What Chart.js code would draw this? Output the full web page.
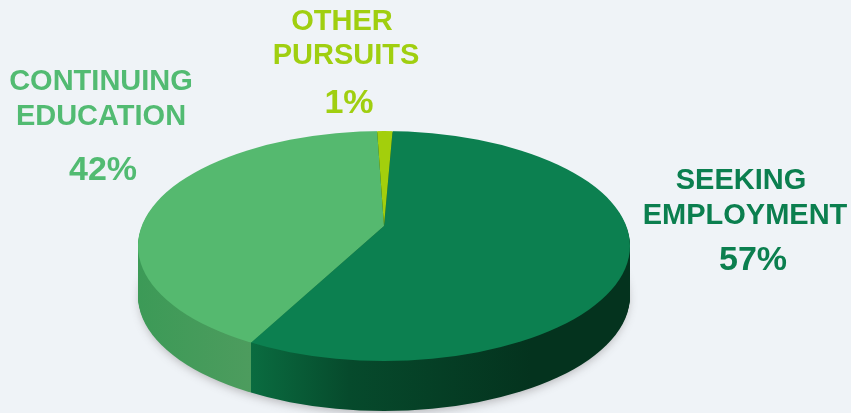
<!DOCTYPE html>
<html>
<head>
<meta charset="utf-8">
<title>Post-graduation plans</title>
<script src="https://cdn.jsdelivr.net/npm/chart.js@4"></script>
<style>
    html, body { margin: 0; padding: 0; background: #eff3f7; }
    canvas { display: block; }
</style>
</head>
<body>
<canvas id="chart-canvas" width="851" height="413"></canvas>
<script>
let categories = ["SEEKING EMPLOYMENT", "CONTINUING EDUCATION", "OTHER PURSUITS"];
let shares = [57, 42, 1];
let sliceColors = ["#0c8050", "#55b96f", "#a3cf0c"];
let textColors = ["#0b7f4f", "#52bb72", "#a0cf10"];

// label placement: one entry per category, [text, center x, baseline y] per line
let labelLines = [
    [["SEEKING", 741, 189], ["EMPLOYMENT", 745, 224]],
    [["CONTINUING", 101, 90], ["EDUCATION", 101, 125]],
    [["OTHER", 342, 30], ["PURSUITS", 346, 64]],
];
let percentSpots = [[753, 270], [103, 180], [349, 113]];

// the pie is seen in perspective: the rim is an ellipse whose middle sits
// below the point where the slices meet, so the far half is squashed harder
let rimCenterY = 246;
let rimRadiusY = 115;
let farSquash = 0.386;
let nearSquash = 0.451;
let overscan = 1.5;
let depth = 50;

// x where a slice edge leaves the apex and meets the rim
function rimX(angle, cx, cy, r) {
    let squash = Math.sin(angle) < 0 ? farSquash : nearSquash;
    let dx = Math.cos(angle);
    let dy = Math.sin(angle) * squash;
    let a = dx * dx / (r * r) + dy * dy / (rimRadiusY * rimRadiusY);
    let off = cy - rimCenterY;
    let b = 2 * off * dy / (rimRadiusY * rimRadiusY);
    let c = off * off / (rimRadiusY * rimRadiusY) - 1;
    let t = (-b + Math.sqrt(b * b - 4 * a * c)) / (2 * a);
    return cx + t * dx;
}

let tiltedPie = {
    id: "tiltedPie",
    beforeDatasetDraw(chart, args) {
        let ctx = chart.ctx;
        let arcs = args.meta.data;
        let cx = arcs[0].x;
        let cy = arcs[0].y;
        let r = arcs[0].outerRadius;

        // soft shadow under the pie
        ctx.save();
        ctx.shadowColor = "rgba(70, 60, 60, 0.35)";
        ctx.shadowBlur = 10;
        ctx.shadowOffsetY = 3;
        ctx.fillStyle = "#04331e";
        ctx.beginPath();
        ctx.ellipse(cx, rimCenterY + depth, r - 2, rimRadiusY - 1, 0, 0, Math.PI * 2);
        ctx.fill();
        ctx.restore();

        // side wall, changes colour where the first slice ends
        let left = cx - r;
        let split = (rimX(arcs[0].endAngle, cx, cy, r) - left) / (2 * r);
        let wall = ctx.createLinearGradient(left, 0, cx + r, 0);
        wall.addColorStop(0, "#3c9a57");
        wall.addColorStop(split, "#4d9c5e");
        wall.addColorStop(split, "#0a6c40");
        wall.addColorStop(split + 0.2, "#064a2c");
        wall.addColorStop(0.8, "#04331e");
        wall.addColorStop(1, "#04331e");
        ctx.fillStyle = wall;
        for (let d = depth; d > 0; d--) {
            ctx.beginPath();
            ctx.ellipse(cx, rimCenterY + d, r, rimRadiusY, 0, 0, Math.PI * 2);
            ctx.fill();
        }

        // top face: the library's arcs, stretched past the rim and cut to it
        ctx.save();
        ctx.beginPath();
        ctx.ellipse(cx, rimCenterY, r, rimRadiusY, 0, 0, Math.PI * 2);
        ctx.clip();
        [[0, cy, farSquash], [cy, chart.height - cy, nearSquash]].forEach(([top, height, squash]) => {
            ctx.save();
            ctx.beginPath();
            ctx.rect(0, top, chart.width, height);
            ctx.clip();
            ctx.translate(cx, cy);
            ctx.scale(overscan, overscan * squash);
            ctx.translate(-cx, -cy);
            arcs.forEach((arc) => arc.draw(ctx));
            ctx.restore();
        });
        ctx.restore();
        return false;
    },
    afterDraw(chart) {
        let ctx = chart.ctx;
        ctx.save();
        ctx.textAlign = "center";
        ctx.textBaseline = "alphabetic";
        categories.forEach((name, i) => {
            ctx.fillStyle = textColors[i];
            ctx.font = "bold 29px 'Liberation Sans'";
            labelLines[i].forEach(([text, x, y]) => ctx.fillText(text, x, y));
            ctx.font = "bold 34px 'Liberation Sans'";
            ctx.fillText(shares[i] + "%", percentSpots[i][0], percentSpots[i][1]);
        });
        ctx.restore();
    },
};

new Chart("chart-canvas", {
    type: "pie",
    data: {
        labels: categories,
        datasets: [{
            data: shares,
            backgroundColor: sliceColors,
            borderWidth: 0,
            radius: 246,
            clip: false,
        }],
    },
    options: {
        responsive: false,
        animation: false,
        rotation: 2,
        layout: { padding: { right: 83, top: 39 } },
        plugins: {
            legend: { display: false },
            tooltip: { enabled: false },
        },
    },
    plugins: [tiltedPie],
});
</script>
</body>
</html>
